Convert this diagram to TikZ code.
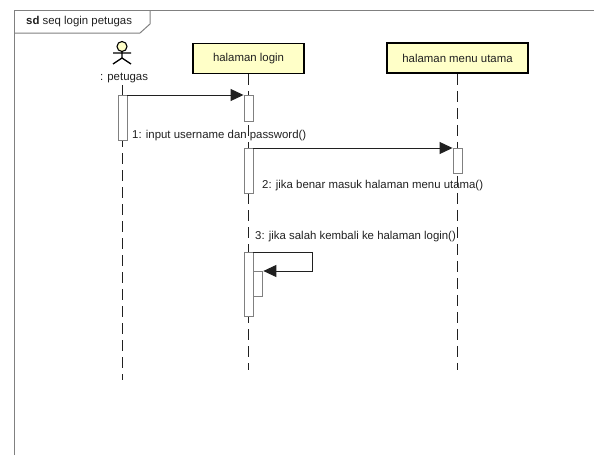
\documentclass[tikz,border=0pt]{standalone}
\usepackage{fontspec}
\setmainfont{Liberation Sans}
\usetikzlibrary{positioning, arrows.meta}
\definecolor{lifebox}{HTML}{FFFFC8}
\definecolor{framegray}{HTML}{808080}
\definecolor{inkgray}{HTML}{202020}
\tikzset{
      obj box/.style={
		draw=black,
		line width=1.6pt,
		fill=lifebox,
		minimum width=#1,
		minimum height=30,
		inner sep=0pt,
		text=inkgray,
		font=\fontsize{11.4}{13}\selectfont,
	  },
      activation/.style={
		draw=framegray,
		fill=white,
		line width=0.9pt,
		minimum width=9,
		minimum height=#1,
		inner sep=0pt,
		anchor=north,
	  },
  		lifeline/.style={draw=inkgray, line width=1pt, dash pattern=on 11pt off 6pt},
  		msg/.style={draw=inkgray, line width=1pt, -{Triangle[length=13pt, width=12pt]}},
  		msg label/.style={anchor=west, inner sep=0pt, text=inkgray, font=\fontsize{11.4}{13}\selectfont},
  	}

\begin{document}
\begin{tikzpicture}[x=1pt, y=-1pt]
    \useasboundingbox (0,0) rectangle (594,455);
    % frame
    \draw[framegray, line width=1pt] (14,455) -- (14,10) -- (594,10);
    \draw[framegray, line width=1pt] (14,33) -- (140,33) -- (150,24) -- (150,10);
    \node [msg label] (frame) at (26,22) {\textbf{sd} seq login petugas};
    % actor
    \node [circle, draw=black, fill=lifebox, line width=1.1pt, minimum size=10, inner sep=0pt] (head) at (122,46.5) {};
    \draw[black, line width=1.3pt] (head.south) -- (122,58) (113,53) -- (131,53) (113,64) -- (122,58) -- (131,64);
    \node [msg label, anchor=center] (petugas) at (124,78) {: petugas};
    \node [obj box=111] (login) at (248.5,58.5) {halaman login};
    \node [obj box=141] (menu) at (457.5,58) {halaman menu utama};
    % lifelines
    \coordinate (end petugas) at (122.5,380);
    \coordinate (end login) at (248.5,370);
    \coordinate (end menu) at (457.5,370);
    \draw[lifeline] (122.5,85) -- (end petugas);
    \draw[lifeline] (login.south) -- (end login);
    \draw[lifeline] (menu.south) -- (end menu);
    % activations
    \node [activation=45] (a1) at (122.5,95) {};
    \node [activation=26] (a2) at (248.5,95) {};
    \node [activation=45] (a3) at (248.5,148) {};
    \node [activation=25] (a4) at (457.5,148) {};
    \node [activation=64] (a5) at (248.5,252) {};
    \node [activation=25, anchor=north west] (a6) at (a5.east |- 0,271) {};
    % messages
    \draw[msg] (a1.north east) -- (a2.north west);
    \draw[msg] (a3.north east) -- (a4.north west);
    \draw[msg] (a5.north east) -- ++(59,0) |- (a6.north east);
    \node [msg label] (m1) at (132,136) {1: input username dan password()};
    \node [msg label] (m2) at (262,186) {2: jika benar masuk halaman menu utama()};
    \node [msg label] (m3) at (255,237) {3: jika salah kembali ke halaman login()};
  \end{tikzpicture}
\end{document}
